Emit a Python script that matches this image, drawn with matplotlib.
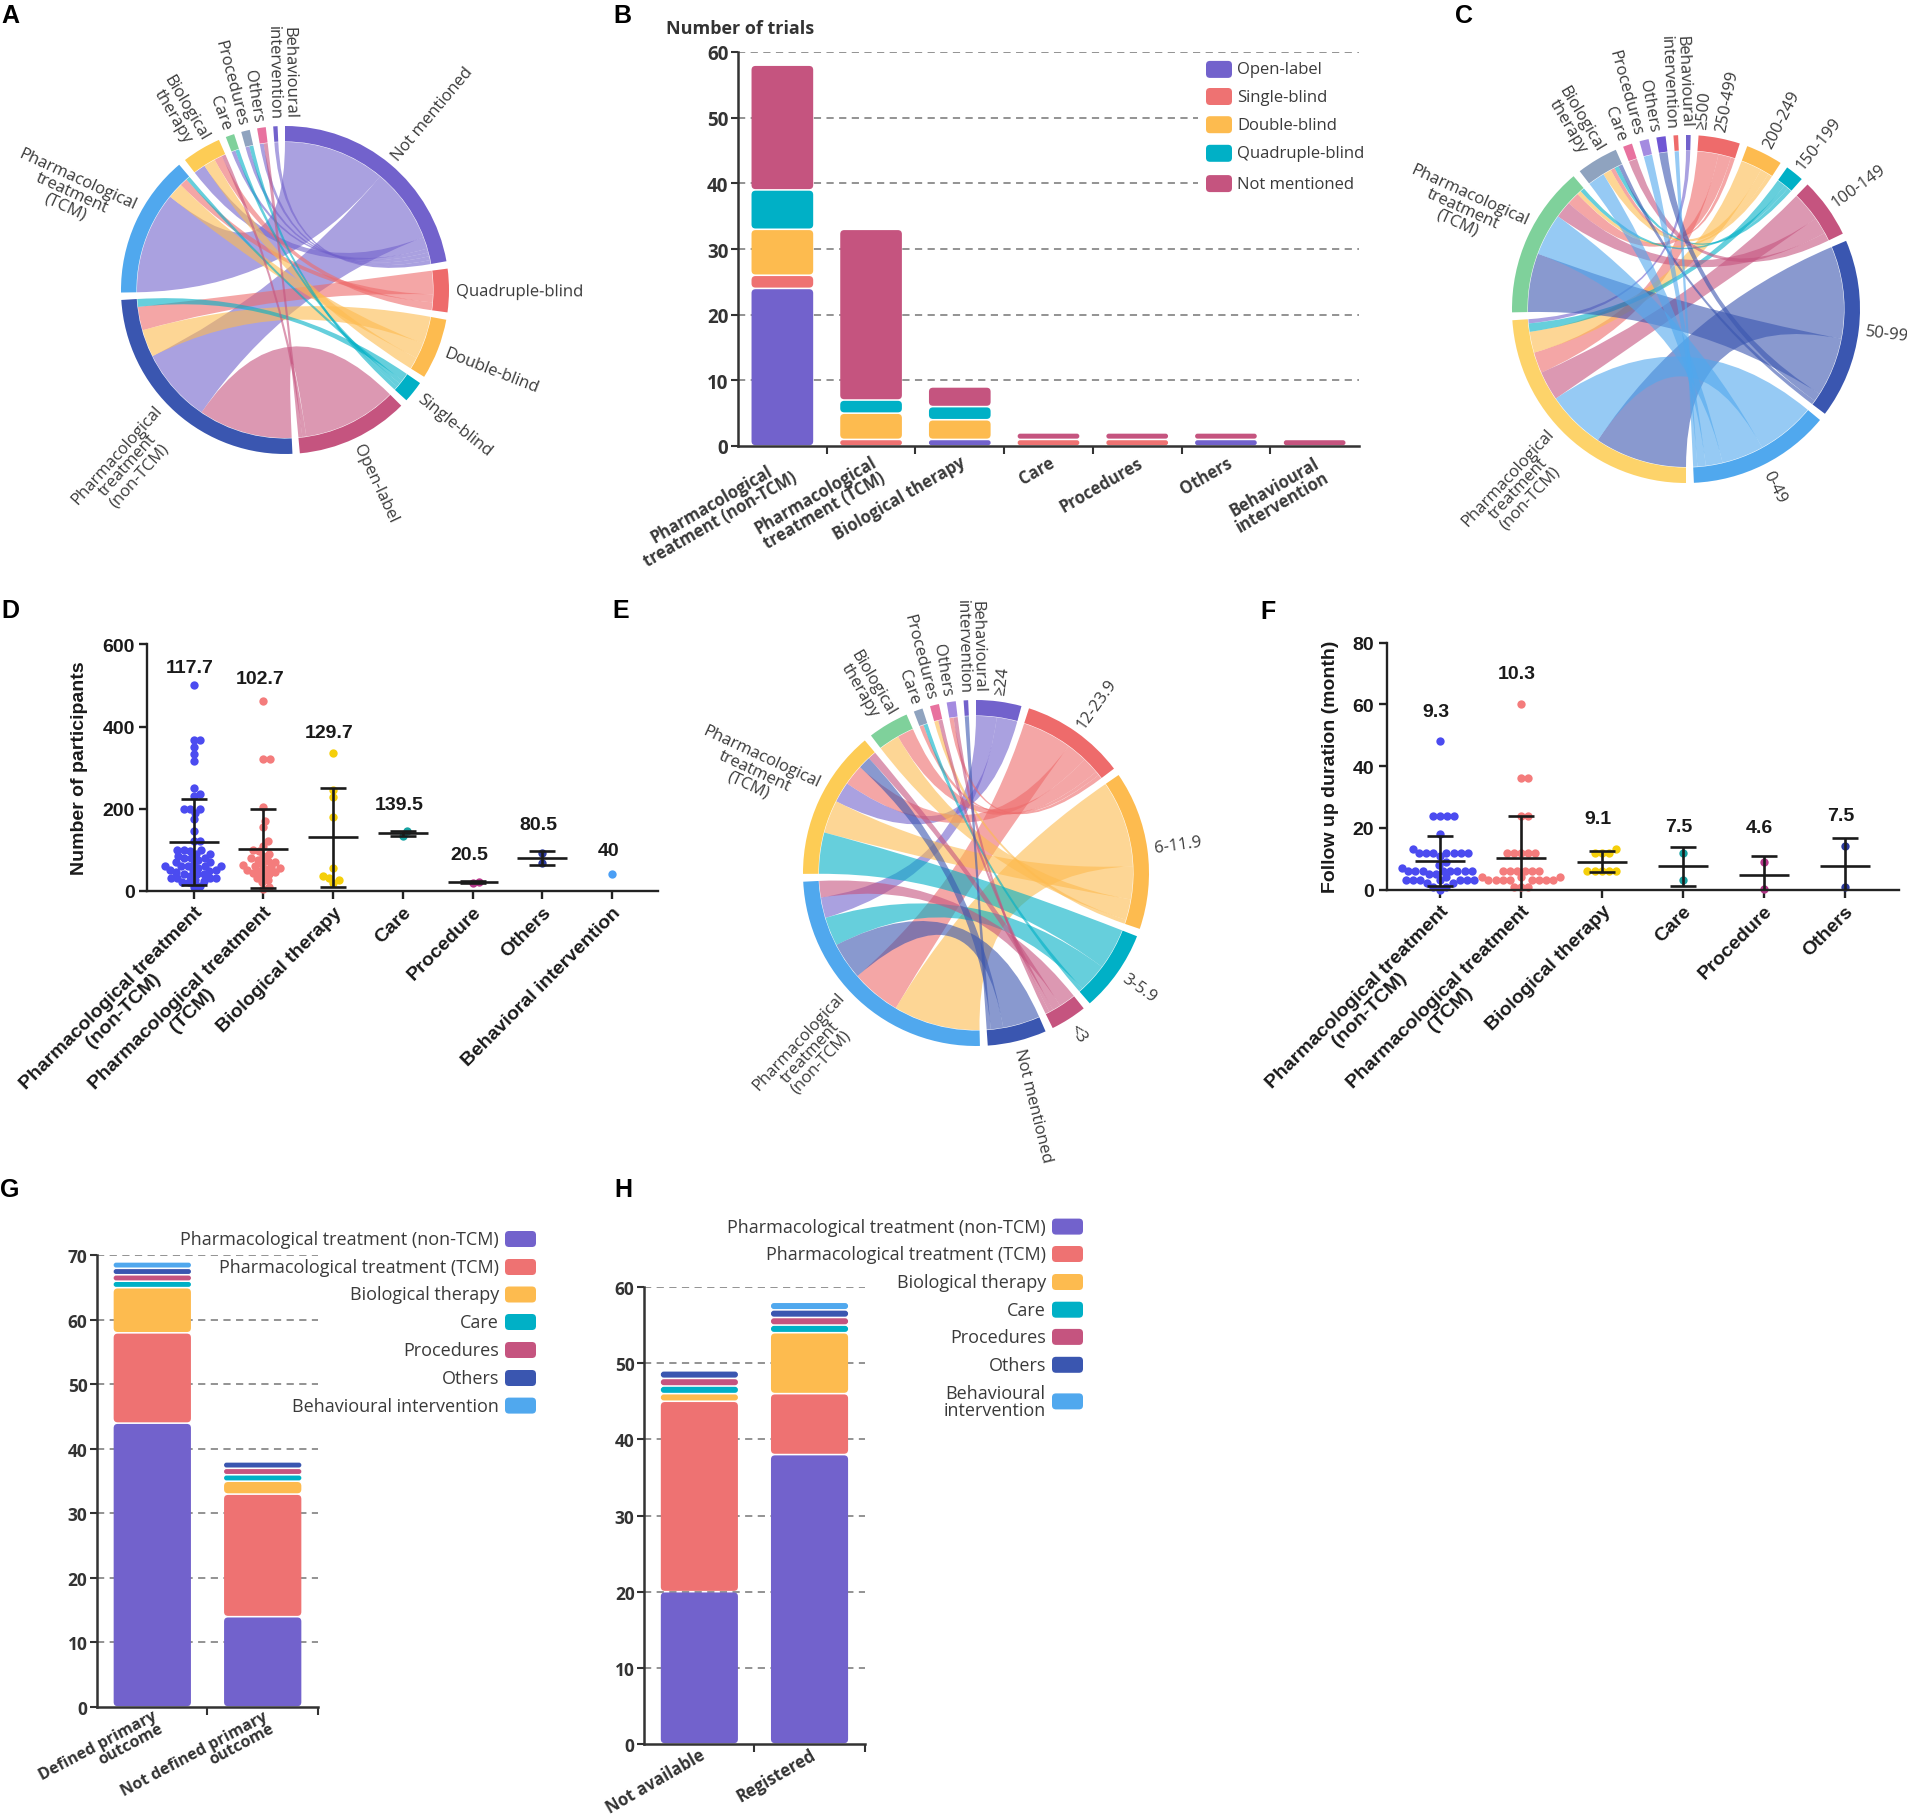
import numpy as np
import matplotlib
matplotlib.use("Agg")
import matplotlib.pyplot as plt
from matplotlib.patches import Wedge, PathPatch, FancyBboxPatch, Rectangle
from matplotlib.path import Path

# ============================ DATA ============================
# Panel A / B : masking by intervention type
b_labels = ["Pharmacological\ntreatment (non-TCM)", "Pharmacological\ntreatment (TCM)",
            "Biological therapy", "Care", "Procedures", "Others", "Behavioural\nintervention"]
masking_names = ["Open-label", "Single-blind", "Double-blind", "Quadruple-blind", "Not mentioned"]
b_open = [24, 0, 1, 0, 0, 1, 0]
b_single = [2, 1, 0, 1, 1, 0, 0]
b_double = [7, 4, 3, 0, 0, 0, 0]
b_quad = [6, 2, 2, 0, 0, 0, 0]
b_notmentioned = [19, 26, 3, 1, 1, 1, 1]
b_yticks = [0, 10, 20, 30, 40, 50, 60]

chord_int_labels = ["Pharmacological\ntreatment\n(non-TCM)", "Pharmacological\ntreatment\n(TCM)",
                    "Biological\ntherapy", "Care", "Procedures", "Others", "Behavioural\nintervention"]

# Panel C : sample size by intervention type
size_names = ["\u2265500", "250-499", "200-249", "150-199", "100-149", "50-99", "0-49"]
c_500 = [1, 0, 0, 0, 0, 0, 0]
c_250_499 = [5, 3, 1, 0, 0, 0, 0]
c_200_249 = [5, 1, 2, 0, 0, 0, 0]
c_150_199 = [2, 1, 1, 0, 0, 0, 0]
c_100_149 = [7, 4, 0, 2, 0, 0, 0]
c_50_99 = [22, 14, 1, 0, 0, 2, 0]
c_0_49 = [14, 10, 4, 0, 2, 0, 1]

# Panel E : follow-up duration by intervention type
dur_names = ["\u226524", "12-23.9", "6-11.9", "3-5.9", "<3", "Not mentioned"]
e_24 = [5, 5, 0, 0, 0, 0, 0]
e_12 = [12, 5, 4, 1, 0, 1, 0]
e_6 = [21, 8, 5, 0, 1, 0, 0]
e_3 = [7, 10, 0, 1, 0, 0, 0]
e_lt3 = [4, 2, 0, 0, 1, 1, 0]
e_nm = [9, 3, 0, 0, 0, 0, 1]

# Panel D : number of participants
d_labels = ["Pharmacological treatment\n(non-TCM)", "Pharmacological treatment\n(TCM)",
            "Biological therapy", "Care", "Procedure", "Others", "Behavioral intervention"]
d_nontcm = [500, 368, 368, 350, 333, 315, 250, 235, 230, 200, 200, 200, 190, 175, 145, 120, 120,
            100, 100, 100, 96, 90, 90, 85, 80, 80, 80, 76, 70, 70, 66, 60, 60, 60, 60, 60, 56,
            50, 50, 50, 48, 45, 40, 40, 40, 36, 30, 30, 30, 30, 26, 24, 20, 20, 12, 10]
d_tcm = [462, 322, 322, 205, 170, 155, 120, 110, 100, 96, 90, 85, 80, 76, 72, 70, 66, 62, 60,
         58, 55, 52, 50, 48, 45, 42, 40, 36, 30, 25, 20, 10, 5]
d_bio = [335, 246, 229, 179, 56, 36, 30, 25, 18]
d_care = [134, 145]
d_proc = [19, 22]
d_others = [68, 93]
d_behav = [40]
d_means = [117.7, 102.7, 129.7, 139.5, 20.5, 80.5, 40]
d_sd = [105, 97, 120, 6, 2, 17, 0]
d_yticks = [0, 200, 400, 600]

# Panel F : follow-up duration (month)
f_labels = d_labels[:6]
f_nontcm = [48, 24, 24, 24, 24, 18, 13, 12, 12, 12, 12, 12, 12, 12, 11, 9, 8, 7,
            6, 6, 6, 6, 6, 6, 6, 6, 5, 5, 4, 3, 3, 3, 3, 3, 3, 3, 2, 2, 1, 1, 0]
f_tcm = [60, 36, 36, 24, 24, 12, 12, 12, 12, 12, 6, 6, 6, 6, 6, 6, 4, 4, 4,
         3, 3, 3, 3, 3, 3, 3, 3, 1, 1, 1]
f_bio = [13, 12, 12, 12, 6, 6, 6, 6, 6]
f_care = [12, 3]
f_proc = [9, 0.2]
f_others = [14, 1]
f_means = [9.3, 10.3, 9.1, 7.5, 4.6, 7.5]
f_sd = [8.2, 13.4, 3.4, 6.4, 6.2, 9.1]
f_yticks = [0, 20, 40, 60, 80]

# Panel G / H : intervention type by primary outcome / registration
gh_names = ["Pharmacological treatment (non-TCM)", "Pharmacological treatment (TCM)",
            "Biological therapy", "Care", "Procedures", "Others", "Behavioural intervention"]
h_leg_names = gh_names[:6] + ["Behavioural\nintervention"]
g_cats = ["Defined primary\noutcome", "Not defined primary\noutcome"]
g_nontcm = [44, 14]
g_tcm = [14, 19]
g_bio = [7, 2]
g_care = [1, 1]
g_proc = [1, 1]
g_others = [1, 1]
g_behav = [1, 0]
g_yticks = [0, 10, 20, 30, 40, 50, 60, 70]
h_cats = ["Not available", "Registered"]
h_nontcm = [20, 38]
h_tcm = [25, 8]
h_bio = [1, 8]
h_care = [1, 1]
h_proc = [1, 1]
h_others = [1, 1]
h_behav = [0, 1]
h_yticks = [0, 10, 20, 30, 40, 50, 60]

# ============================ STYLE ============================
W, H, DPI = 1907, 1815, 100
SANS = ["Open Sans", "DejaVu Sans"]
ARIAL = ["Liberation Sans", "DejaVu Sans"]
TXT = "#3a3a3a"
plt.rcParams["font.family"] = SANS

PURPLE, SALMON, ORANGE, TEAL, RASP = "#7262cc", "#ee7272", "#fdbb4f", "#00b0c6", "#c5547f"
DBLUE, LBLUE, YELLOW, GREEN, GREYB, PINK, LAV = ("#3a56b0", "#50a8ee", "#fdcc55", "#7fd19b",
                                                "#8fa3bf", "#e8729f", "#a48be0")
b_colors = [PURPLE, SALMON, ORANGE, TEAL, RASP]
gh_colors = [PURPLE, SALMON, ORANGE, TEAL, RASP, DBLUE, LBLUE]
d_colors = ["#4b4bf0", "#f47c7c", "#f5cf0a", "#17a2a2", "#b5378a", "#2c3a9c", "#4b9ff5"]

fig = plt.figure(figsize=(W / DPI, H / DPI), dpi=DPI)
fig.patch.set_facecolor("white")


def add_ax(x0, y0, x1, y1):
    ax = fig.add_axes([x0 / W, 1 - y1 / H, (x1 - x0) / W, (y1 - y0) / H])
    ax.patch.set_alpha(0)
    return ax


def px_scale(ax):
    pos = ax.get_position()
    xl, yl = ax.get_xlim(), ax.get_ylim()
    return pos.width * W / (xl[1] - xl[0]), pos.height * H / (yl[1] - yl[0])


def rbar(ax, x, y0, h, w, color, r_px=4.0, gap_px=0.8):
    ppx, ppy = px_scale(ax)
    g = gap_px / ppy
    yb, hh = y0 + g, h - 2 * g
    r = max(0.3, min(r_px, hh * ppy / 2 - 0.05, w * ppx / 2))
    ax.add_patch(FancyBboxPatch((x - w / 2, yb), w, hh,
                                boxstyle=f"round,pad=0,rounding_size={r / ppx}",
                                mutation_aspect=ppx / ppy, facecolor=color,
                                edgecolor="none", zorder=2))


def stacked(ax, series, colors, width, r_px):
    n = len(series[0])
    bottoms = np.zeros(n)
    for vals, col in zip(series, colors):
        for x in range(n):
            if vals[x] > 0:
                rbar(ax, x, bottoms[x], vals[x], width, col, r_px=r_px)
        bottoms += np.array(vals, float)


def bar_axes_style(ax, yticks, fs, xpad=5):
    for s in ["top", "right"]:
        ax.spines[s].set_visible(False)
    for s in ["left", "bottom"]:
        ax.spines[s].set_linewidth(1.8)
        ax.spines[s].set_color("#333333")
    ax.set_yticks(yticks)
    ax.set_yticklabels([str(v) for v in yticks], fontsize=fs, fontweight="bold", color="#333333")
    ax.tick_params(axis="y", length=5, width=1.5, color="#333333", pad=2)
    ax.tick_params(axis="x", which="major", length=0, pad=xpad)
    ax.tick_params(axis="x", which="minor", length=6, width=1.5, color="#333333")
    for y in yticks[1:]:
        ax.axhline(y, color="#8a8a8a", lw=1.3, ls=(0, (4, 3)), zorder=0)


# ---------------- chord helpers ----------------
def P(c, r):
    t = np.deg2rad(c)
    return (r * np.sin(t), r * np.cos(t))


def arc_pts(c1, c2, r):
    n = max(4, int(abs(c2 - c1) * 2) + 2)
    return [P(c, r) for c in np.linspace(c1, c2, n)]


def ribbon_path(a1, a2, b1, b2, r):
    verts, codes = [], []
    pts = arc_pts(a1, a2, r)
    verts += pts
    codes += [Path.MOVETO] + [Path.LINETO] * (len(pts) - 1)
    verts += [(0, 0), P(b1, r)]
    codes += [Path.CURVE3, Path.CURVE3]
    pts = arc_pts(b1, b2, r)[1:]
    verts += pts
    codes += [Path.LINETO] * len(pts)
    verts += [(0, 0), P(a1, r)]
    codes += [Path.CURVE3, Path.CURVE3]
    verts.append(P(a1, r))
    codes.append(Path.CLOSEPOLY)
    return Path(verts, codes)


def spread_angles(angles, heights, r, iters=400):
    a = np.array([x - 360 if x > 270 else x for x in angles], float)
    order = np.argsort(a)
    for _ in range(iters):
        moved = False
        for p in range(len(order) - 1):
            i, j = order[p], order[p + 1]
            need = np.degrees((heights[i] + heights[j]) / 2.0 / r)
            dd = a[j] - a[i]
            if dd < need - 1e-3:
                delta = (need - dd) / 2.0
                a[i] -= delta
                a[j] += delta
                moved = True
        if not moved:
            break
    return a % 360


def chord(ax, r_names, r_cols, l_names, l_cols, cols, R, thick=15.5, gap=2.6, alpha=0.6, fs=12,
          line_px=16.5):
    nR, nL = len(r_names), len(l_names)
    tot_r = [sum(c) for c in cols]
    tot_l = [sum(cols[j][i] for j in range(nR)) for i in range(nL)]
    totals = tot_r + tot_l
    n = nR + nL
    k = (360.0 - n * gap) / sum(totals)
    starts, c = [], 0.0
    for t in totals:
        starts.append(c)
        c += t * k + gap
    links = {g: [] for g in range(n)}
    for j in range(nR):
        for i in range(nL):
            v = cols[j][i]
            if v > 0:
                links[j].append((nR + i, v))
                links[nR + i].append((j, v))
    sub = {}
    for g in range(n):
        pos = starts[g]
        for o, v in sorted(links[g], key=lambda t: -t[1]):
            sub[(g, o)] = (pos, pos + v * k)
            pos += v * k
    rin = R - thick - 0.5
    for i in range(nL):
        for j in range(nR):
            if cols[j][i] > 0:
                a1, a2 = sub[(nR + i, j)]
                b1, b2 = sub[(j, nR + i)]
                ax.add_patch(PathPatch(ribbon_path(a1, a2, b1, b2, rin), facecolor=r_cols[j],
                                       alpha=alpha, lw=0))
    names, colors = r_names + l_names, r_cols + l_cols
    mids, heights = [], []
    for g in range(n):
        c1 = starts[g]
        c2 = c1 + totals[g] * k
        ax.add_patch(Wedge((0, 0), R, 90 - c2, 90 - c1, width=thick, facecolor=colors[g], lw=0))
        mids.append((c1 + c2) / 2)
        heights.append(line_px * (names[g].count("\n") + 1))
    lab_r = R + 7
    angs = spread_angles(mids, heights, lab_r)
    for g in range(n):
        mid = angs[g]
        x, y = P(mid, lab_r)
        if mid < 180:
            rot, ha = 90 - mid, "left"
        else:
            rot, ha = 270 - mid, "right"
        ax.text(x, y, names[g], rotation=rot, ha=ha, va="center", rotation_mode="anchor",
                multialignment="center", fontsize=fs, color=TXT, family=SANS, linespacing=0.92)


def chord_ax(cx, cy, half=300):
    ax = add_ax(cx - half, cy - half, cx + half, cy + half)
    ax.set_xlim(-half, half)
    ax.set_ylim(-half, half)
    ax.axis("off")
    return ax


# ---------------- swarm helper ----------------
def swarm(vals, ppx, ppy, d):
    vals = np.asarray(vals, float)
    order = np.argsort(vals, kind="stable")
    placed = []
    xs = np.zeros(len(vals))
    for idx in order:
        y = vals[idx] * ppy
        cands = [0.0]
        for (px_, py_) in placed:
            dy = abs(y - py_)
            if dy < d:
                dx = np.sqrt(d * d - dy * dy)
                cands += [px_ + dx, px_ - dx]
        cands.sort(key=abs)
        chosen = cands[-1]
        for cnd in cands:
            if all((cnd - px_) ** 2 + (y - py_) ** 2 >= d * d - 1e-6 for (px_, py_) in placed):
                chosen = cnd
                break
        placed.append((chosen, y))
        xs[idx] = chosen
    return xs / ppx


def dot_panel(ax, groups, colors, means, sds, labels, label_y, yticks, ylabel, ylabel_x, d_px):
    ppx, ppy = px_scale(ax)
    for kk, (vals, col) in enumerate(zip(groups, colors)):
        xs = swarm(vals, ppx, ppy, d_px)
        ax.scatter(kk + xs, vals, s=36, color=col, lw=0, zorder=2, clip_on=False)
        m, sd = means[kk], sds[kk]
        if len(vals) > 1:
            mw, cw = 25 / ppx, 13 / ppx
            kw = dict(color="#1a1a1a", lw=1.9, zorder=3, solid_capstyle="butt")
            ax.plot([kk - mw, kk + mw], [m, m], **kw)
            ax.plot([kk, kk], [m - sd, m + sd], **kw)
            ax.plot([kk - cw, kk + cw], [m + sd, m + sd], **kw)
            ax.plot([kk - cw, kk + cw], [m - sd, m - sd], **kw)
        ax.text(kk - 0.05, label_y[kk], f"{m:g}", ha="center", va="center", fontsize=14,
                fontweight="bold", family=ARIAL, color="#1a1a1a")
    for s in ["top", "right"]:
        ax.spines[s].set_visible(False)
    for s in ["left", "bottom"]:
        ax.spines[s].set_linewidth(1.7)
        ax.spines[s].set_color("#222222")
    ax.set_xticks(range(len(groups)))
    ax.set_xticklabels(labels, rotation=45, ha="right", rotation_mode="anchor", fontsize=14,
                       fontweight="bold", family=ARIAL, multialignment="center", color="#1a1a1a",
                       linespacing=1.0)
    ax.set_yticks(yticks)
    ax.set_yticklabels([str(v) for v in yticks], fontsize=14, fontweight="bold", family=ARIAL,
                       color="#1a1a1a")
    ax.tick_params(axis="both", length=6, width=1.7, color="#222222", pad=3)
    ax.set_ylabel(ylabel, fontsize=14, fontweight="bold", family=ARIAL, color="#1a1a1a")
    ax.yaxis.set_label_coords(ylabel_x, 0.5)


# ============================ PANEL A ============================
axA = chord_ax(285, 291)
chord(axA, ["Not mentioned", "Quadruple-blind", "Double-blind", "Single-blind", "Open-label"],
      [PURPLE, "#ee6b6b", ORANGE, TEAL, RASP],
      chord_int_labels, [DBLUE, LBLUE, YELLOW, GREEN, GREYB, PINK, PURPLE],
      [b_notmentioned, b_quad, b_double, b_single, b_open], R=164)

# ============================ PANEL B ============================
axB = add_ax(738, 53, 1359, 447)
axB.set_xlim(-0.5, 6.5)
axB.set_ylim(0, 60)
bar_axes_style(axB, b_yticks, 13.5)
stacked(axB, [b_open, b_single, b_double, b_quad, b_notmentioned], b_colors, 0.695, 4)
axB.set_xticks(range(7))
axB.set_xticklabels(b_labels, rotation=30, ha="right", rotation_mode="anchor", fontsize=12,
                    fontweight="bold", multialignment="center", color="#3a3a3a", linespacing=0.95)
axB.set_xticks(np.arange(0.5, 6.0, 1.0), minor=True)

# ============================ PANEL C ============================
axC = chord_ax(1686, 310)
chord(axC, size_names, [PURPLE, "#ee6b6b", ORANGE, TEAL, RASP, DBLUE, LBLUE],
      chord_int_labels, ["#fdd36a", GREEN, GREYB, PINK, LAV, "#6f56d4", "#ee6b6b"],
      [c_500, c_250_499, c_200_249, c_150_199, c_100_149, c_50_99, c_0_49], R=174)

# ============================ PANEL D ============================
axD = add_ax(147.4, 645.4, 658, 891.7)
axD.set_xlim(-0.663, 6.66)
axD.set_ylim(0, 600)
dot_panel(axD, [d_nontcm, d_tcm, d_bio, d_care, d_proc, d_others, d_behav], d_colors,
          d_means, d_sd, d_labels, [543, 516, 386, 210, 88, 162, 99], d_yticks,
          "Number of participants", -0.116, 6.4)

# ============================ PANEL E ============================
axE = chord_ax(976, 874)
chord(axE, dur_names, [PURPLE, "#ee6b6b", ORANGE, TEAL, RASP, DBLUE],
      chord_int_labels, [LBLUE, YELLOW, GREEN, GREYB, PINK, LAV, PURPLE],
      [e_24, e_12, e_6, e_3, e_lt3, e_nm], R=173)

# ============================ PANEL F ============================
axF = add_ax(1386.8, 643.7, 1899, 890.6)
axF.set_xlim(-0.657, 5.67)
axF.set_ylim(0, 80)
dot_panel(axF, [f_nontcm, f_tcm, f_bio, f_care, f_proc, f_others], d_colors[:6],
          f_means, f_sd, f_labels, [57.7, 70, 22.9, 20.6, 20.1, 23.9], f_yticks,
          "Follow up duration (month)", -0.093, 7.2)

# ============================ PANEL G ============================
axG = add_ax(97.1, 1256.4, 317.9, 1708)
axG.set_xlim(-0.5, 1.5)
axG.set_ylim(0, 70)
bar_axes_style(axG, g_yticks, 12.5, xpad=0.5)
stacked(axG, [g_nontcm, g_tcm, g_bio, g_care, g_proc, g_others, g_behav], gh_colors, 0.70, 4)
axG.set_xticks(range(2))
axG.set_xticklabels(g_cats, rotation=28, ha="right", rotation_mode="anchor", fontsize=11.5,
                    fontweight="bold", multialignment="right", color="#333333", linespacing=0.82)
axG.set_xticks([0.5, 1.5], minor=True)

# ============================ PANEL H ============================
axH = add_ax(644.3, 1288, 864.6, 1745)
axH.set_xlim(-0.5, 1.5)
axH.set_ylim(0, 60)
bar_axes_style(axH, h_yticks, 12.5, xpad=1)
stacked(axH, [h_nontcm, h_tcm, h_bio, h_care, h_proc, h_others, h_behav], gh_colors, 0.70, 4)
axH.set_xticks(range(2))
axH.set_xticklabels(h_cats, rotation=30, ha="right", rotation_mode="anchor", fontsize=12,
                    fontweight="bold", color="#333333")
axH.set_xticks([0.5, 1.5], minor=True)

# ============================ OVERLAY ============================
ov = fig.add_axes([0, 0, 1, 1])
ov.set_xlim(0, W)
ov.set_ylim(H, 0)
ov.axis("off")
ov.patch.set_alpha(0)

for letter, (lx, ly) in zip("ABCDEFGH", [(10, 16), (622, 16), (1464, 16), (10, 611),
                                          (621, 611), (1268, 612), (10, 1190), (623, 1190)]):
    ov.text(lx, ly, letter, ha="center", va="center", fontsize=18, fontweight="bold",
            family=ARIAL, color="black")

ov.text(666, 29, "Number of trials", ha="left", va="center", fontsize=13, fontweight="bold",
        color="#333333")

# legend B (white box hides the grid behind it)
ov.add_patch(Rectangle((1198, 56), 180, 142, facecolor="white", edgecolor="none"))
for name, col, y in zip(masking_names, b_colors, [70.4, 97.5, 125.7, 154.3, 184.6]):
    ov.add_patch(FancyBboxPatch((1206, y - 8.5), 26, 17, boxstyle="round,pad=0,rounding_size=4",
                                facecolor=col, edgecolor="none"))
    ov.text(1237, y, name, ha="left", va="center", fontsize=12, color=TXT)

# legend G
for name, col, y in zip(gh_names, gh_colors, [1240, 1268, 1295.5, 1323, 1351, 1379, 1406.6]):
    ov.add_patch(FancyBboxPatch((505, y - 8), 31, 16, boxstyle="round,pad=0,rounding_size=4",
                                facecolor=col, edgecolor="none"))
    ov.text(499, y, name, ha="right", va="center", fontsize=13, color=TXT)

# legend H
for name, col, y in zip(h_leg_names, gh_colors, [1227.6, 1255, 1283, 1310.7, 1337.9, 1365.8, 1402.4]):
    ov.add_patch(FancyBboxPatch((1052, y - 8), 31, 16, boxstyle="round,pad=0,rounding_size=4",
                                facecolor=col, edgecolor="none"))
    ov.text(1046, y, name, ha="right", va="center", fontsize=13, color=TXT,
            multialignment="center", linespacing=0.9)

fig.savefig("out.png", dpi=DPI, facecolor="white")
